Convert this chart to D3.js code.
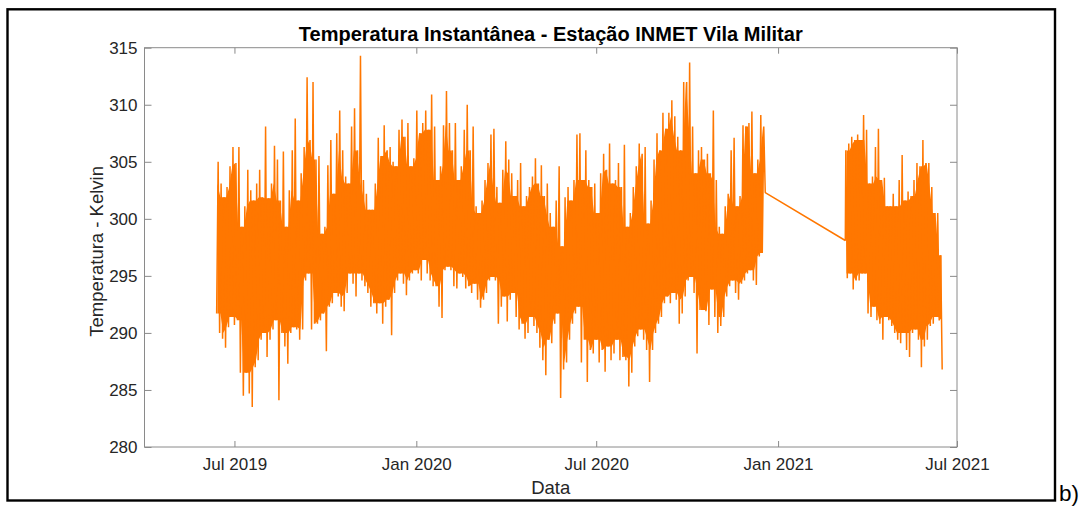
<!DOCTYPE html>
<html>
<head>
<meta charset="utf-8">
<script src="https://cdn.jsdelivr.net/npm/d3@7"></script>
<style>
  html, body { margin: 0; padding: 0; background: #fff; }
  svg { display: block; font-family: "Liberation Sans", Arial, Helvetica, sans-serif; }
</style>
</head>
<body>
<svg id="chart" width="1087" height="511"></svg>
<script>
// ---- Axis definitions ----
const yTicks = [280, 285, 290, 295, 300, 305, 310, 315];
const xTickDates = ["2019-07-01", "2020-01-01", "2020-07-01", "2021-01-01", "2021-07-01"];
const xTickLabels = ["Jul 2019", "Jan 2020", "Jul 2020", "Jan 2021", "Jul 2021"];
const periodStart = "2019-04-01";
const periodEnd = "2021-07-01";

// ---- Temperature record (K): minimum and maximum of each 3-day block ----
const stepDays = 3;

// First stretch of the record, June 2019 - December 2020
const seg1Start = "2019-06-13";
const seg1High = [
  305.0, 303.1, 301.9, 302.8, 304.6, 306.3, 304.9, 306.3, 299.3, 301.1, 304.3, 302.5, 301.6, 303.1, 304.3, 301.9,
  308.1, 301.8, 303.1, 306.4, 305.2, 301.6, 305.9, 299.3, 302.5, 306.0, 308.8, 301.6, 304.0, 306.3, 312.4, 306.9,
  312.0, 305.2, 305.5, 298.7, 299.3, 304.7, 306.9, 302.2, 307.5, 309.5, 306.0, 303.7, 303.1, 308.1, 309.7, 306.0,
  314.3, 303.4, 302.2, 300.8, 300.8, 303.1, 307.1, 305.5, 308.2, 306.0, 306.3, 305.0, 304.6, 307.8, 308.7, 307.2,
  308.4, 304.6, 305.3, 309.5, 307.5, 308.4, 309.5, 307.8, 310.9, 308.1,
  303.4, 304.6, 308.2, 311.2, 308.4, 306.0, 308.4, 303.4, 304.6, 307.8, 310.0, 306.0, 308.1, 301.1, 300.5, 301.6,
  303.4, 304.9, 307.4, 307.9, 302.8, 301.4, 304.3, 306.8, 305.2, 304.0, 302.0, 303.4, 304.9, 301.1, 302.0, 302.8,
  303.7, 305.3, 303.1, 304.7, 302.0, 303.1, 300.5, 299.3, 301.6, 304.6,
  297.6, 301.9, 302.8, 301.6, 303.4, 307.4, 307.5, 303.4, 306.0, 303.4, 302.8, 303.1, 300.5, 304.0, 305.7, 304.3,
  306.6, 303.1, 303.4, 304.9, 302.8, 306.5, 299.3, 300.5, 302.8, 304.6, 306.6, 305.7, 306.3, 299.6, 301.6, 305.2,
  307.5, 306.0, 309.3, 307.9, 309.3, 310.4, 309.0, 307.2, 306.0, 312.0,
  312.0, 313.7, 308.1, 304.0, 306.0, 306.3, 305.2, 305.7, 304.0, 309.5, 303.4, 299.3, 298.7, 301.1, 302.2, 306.0,
  307.1, 301.1, 302.0, 308.2, 308.1, 308.4, 309.4, 304.0, 305.2, 309.1, 308.1
];
const seg1Low = [
  291.7, 290.0, 289.5, 288.7, 290.5, 291.4, 290.7, 291.1, 286.5, 284.5, 286.5, 284.7, 283.5, 287.0, 287.6, 289.4,
  290.0, 287.9, 289.4, 290.3, 291.1, 284.1, 290.0, 288.8, 287.3, 290.0, 290.5, 290.3, 289.4, 290.3, 294.6, 295.2,
  290.3, 290.8, 290.8, 291.1, 291.7, 288.4, 292.3, 292.6, 293.5, 293.2, 292.3, 291.9, 293.5, 295.2, 294.3, 293.2,
  295.2, 294.6, 294.1, 293.5, 292.3, 292.6, 291.7, 292.6, 290.8, 292.3, 292.9, 289.8, 293.5, 294.6, 295.2, 294.3,
  293.3, 294.6, 295.2, 295.5, 295.2, 294.6, 296.4, 295.2, 294.6, 294.1,
  294.1, 292.3, 291.3, 295.5, 295.8, 295.5, 294.1, 293.9, 295.2, 294.9, 293.9, 294.1, 293.5, 294.3, 292.9, 292.2,
  292.9, 293.5, 294.6, 294.9, 294.6, 290.8, 292.3, 293.2, 291.0, 292.9, 293.5, 291.4, 290.3, 290.8, 289.5, 290.0,
  291.4, 290.6, 290.0, 288.7, 287.6, 286.3, 289.4, 289.1, 290.8, 291.7,
  284.3, 286.8, 287.4, 289.4, 290.8, 291.7, 292.3, 287.4, 289.4, 285.7, 288.5, 288.2, 289.4, 287.4, 288.5, 286.6,
  288.8, 287.6, 288.2, 289.4, 287.6, 287.9, 287.6, 285.3, 286.5, 288.8, 289.7, 290.3, 289.4, 288.5, 285.7, 288.5,
  290.0, 290.8, 291.4, 292.6, 293.2, 292.6, 293.5, 292.9, 290.8, 291.7,
  293.2, 294.6, 294.9, 293.5, 288.2, 292.0, 292.0, 291.9, 290.7, 293.8, 291.4, 290.0, 290.6, 291.4, 293.2, 294.1,
  294.6, 293.5, 292.9, 294.3, 294.6, 295.2, 295.5, 294.6, 294.2, 296.7, 297.0
];
const lastBeforeGap = 302.3;

// Second stretch of the record, March - June 2021
const seg2Start = "2021-03-10";
const firstAfterGap = 298.1;
const seg2High = [
  306.0, 306.6, 307.2, 306.9, 307.4, 306.9, 309.1, 307.8, 303.1, 303.7, 306.3, 307.9, 303.4, 303.6, 301.1, 301.1,
  302.2, 301.1, 303.4, 305.6, 301.6, 302.4, 302.0, 303.4, 304.9, 304.6, 306.9, 304.9, 304.9, 302.8, 300.5, 300.5,
  296.8
];
const seg2Low = [
  294.8, 295.2, 293.8, 294.6, 294.6, 295.2, 295.2, 291.7, 291.4, 292.3, 291.1, 290.8, 289.4, 291.4, 291.1, 290.6,
  290.0, 289.4, 289.1, 290.0, 288.5, 287.9, 290.0, 290.3, 289.4, 287.0, 288.8, 289.4, 290.6, 290.8, 291.4, 291.1,
  286.8
];

// ---- Build the time series ----
const parse = d3.utcParse("%Y-%m-%d");
const hours = (d, h) => new Date(d.getTime() + h * 3600 * 1000);

const series = [];
const s1 = parse(seg1Start);
seg1Low.forEach((lo, i) => {
  series.push({ t: hours(s1, (i * stepDays) * 24), v: lo });
  series.push({ t: hours(s1, (i * stepDays + 1.5) * 24), v: seg1High[i] });
});
series.push({ t: hours(s1, seg1Low.length * stepDays * 24), v: lastBeforeGap });

const s2 = parse(seg2Start);
series.push({ t: s2, v: firstAfterGap });
seg2High.forEach((hi, i) => {
  series.push({ t: hours(s2, (i * stepDays + 0.5) * 24), v: hi });
  series.push({ t: hours(s2, (i * stepDays + 2) * 24), v: seg2Low[i] });
});

// Range shared by each block and its two neighbours: the hourly trace
// covers it solidly, while the individual extremes remain thin spikes.
function coreBand(start, highs, lows, offsetDays) {
  const n = highs.length;
  return highs.map((hi, i) => {
    const a = Math.max(0, i - 1), b = Math.min(n - 1, i + 1);
    return {
      t: hours(start, (i * stepDays + offsetDays) * 24),
      top: Math.min(highs[a], hi, highs[b]),
      bottom: Math.max(lows[a], lows[i], lows[b])
    };
  });
}
const band1 = coreBand(s1, seg1High, seg1Low, 0.75);
const band2 = coreBand(s2, seg2High, seg2Low, 1.25);

// ---- Layout ----
const svg = d3.select("#chart");
const plot = { left: 144.5, right: 957, top: 47.7, bottom: 447 };

const x = d3.scaleUtc()
  .domain([parse(periodStart), parse(periodEnd)])
  .range([plot.left, plot.right]);
const y = d3.scaleLinear()
  .domain([280, 315])
  .range([plot.bottom, plot.top]);

const axisColor = "#8a8a8a";
const textColor = "#262626";
const traceColor = "#ff7700";

// Outer frame
svg.append("rect")
  .attr("x", 7.5).attr("y", 9.3)
  .attr("width", 1055 - 7.5).attr("height", 500.5 - 9.3)
  .attr("fill", "none").attr("stroke", "#000").attr("stroke-width", 2.4);

svg.append("text")
  .attr("x", 1059).attr("y", 501)
  .attr("font-size", 22.5).attr("fill", "#000")
  .text("b)");

// Data, clipped to the plotting box
svg.append("clipPath").attr("id", "plotClip")
  .append("rect")
  .attr("x", plot.left).attr("y", plot.top)
  .attr("width", plot.right - plot.left).attr("height", plot.bottom - plot.top);

const dataLayer = svg.append("g").attr("clip-path", "url(#plotClip)");

const area = d3.area().x(d => x(d.t)).y0(d => y(d.bottom)).y1(d => y(d.top));
dataLayer.selectAll("path.band")
  .data([band1, band2])
  .join("path")
  .attr("class", "band")
  .attr("fill", traceColor)
  .attr("d", area);

const line = d3.line().x(d => x(d.t)).y(d => y(d.v));
dataLayer.append("path")
  .datum(series)
  .attr("fill", "none")
  .attr("stroke", traceColor)
  .attr("stroke-width", 1.5)
  .attr("stroke-linejoin", "bevel")
  .attr("d", line);

// Axes (ticks pointing inward on all four sides)
const xTickVals = xTickDates.map(parse);
const xAxis = d3.axisBottom(x).tickValues(xTickVals)
  .tickFormat((d, i) => xTickLabels[i]).tickSize(-6).tickPadding(11);
const xAxisTop = d3.axisTop(x).tickValues(xTickVals).tickFormat("").tickSize(-6);
const yAxis = d3.axisLeft(y).tickValues(yTicks).tickFormat(d3.format("d")).tickSize(-7).tickPadding(7);
const yAxisRight = d3.axisRight(y).tickValues(yTicks).tickFormat("").tickSize(-7);

function styleAxis(g) {
  g.select(".domain").remove();
  g.selectAll(".tick line").attr("stroke", axisColor);
  g.selectAll(".tick text").attr("fill", textColor).attr("font-size", 17)
    .attr("font-family", "'Liberation Sans', Arial, sans-serif");
}

svg.append("g").attr("transform", `translate(0,${plot.bottom})`).call(xAxis).call(styleAxis);
svg.append("g").attr("transform", `translate(0,${plot.top})`).call(xAxisTop).call(styleAxis);
svg.append("g").attr("transform", `translate(${plot.left},0)`).call(yAxis).call(styleAxis);
svg.append("g").attr("transform", `translate(${plot.right},0)`).call(yAxisRight).call(styleAxis);

svg.append("rect")
  .attr("x", plot.left).attr("y", plot.top)
  .attr("width", plot.right - plot.left).attr("height", plot.bottom - plot.top)
  .attr("fill", "none").attr("stroke", axisColor).attr("stroke-width", 1);

// Titles
svg.append("text")
  .attr("x", (plot.left + plot.right) / 2).attr("y", 40.5)
  .attr("text-anchor", "middle")
  .attr("font-size", 20).attr("font-weight", "bold").attr("fill", "#000")
  .text("Temperatura Instantânea - Estação INMET Vila Militar");

svg.append("text")
  .attr("x", (plot.left + plot.right) / 2).attr("y", 493.5)
  .attr("text-anchor", "middle")
  .attr("font-size", 18.5).attr("fill", textColor)
  .text("Data");

svg.append("text")
  .attr("transform", `translate(103,${(plot.top + plot.bottom) / 2 + 4}) rotate(-90)`)
  .attr("text-anchor", "middle")
  .attr("font-size", 18.5).attr("fill", textColor)
  .text("Temperatura - Kelvin");
</script>
</body>
</html>
